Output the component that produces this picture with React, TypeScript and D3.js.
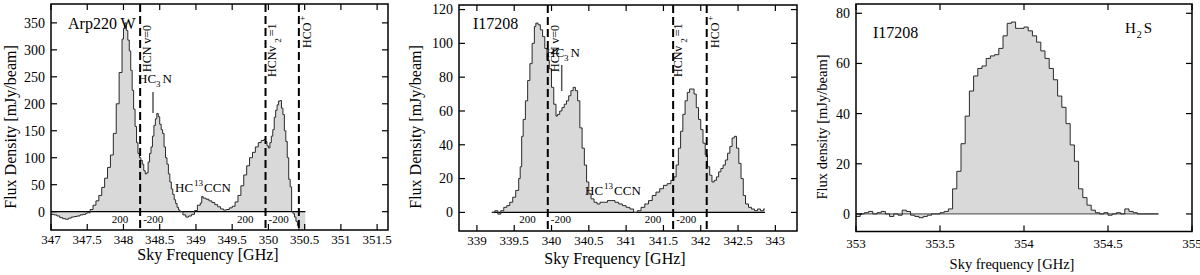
import React from 'react';
import * as d3 from 'd3';

type Pt = [number, number];

// Arp220 W spectrum, [sky frequency GHz, flux mJy/beam]
const arp220W: Pt[] = [
  [347.0, -5], [347.04, -6], [347.08, -8], [347.12, -11], [347.16, -13], [347.2, -14],
  [347.24, -12], [347.28, -10], [347.32, -9], [347.36, -8], [347.4, -6], [347.44, -5],
  [347.48, -3], [347.5, -2], [347.54, 4], [347.58, 12], [347.62, 20], [347.66, 30],
  [347.7, 45], [347.74, 62], [347.78, 82], [347.82, 105], [347.86, 145], [347.9, 200],
  [347.94, 258], [347.98, 320], [348.0, 340], [348.02, 350], [348.04, 336], [348.06, 318],
  [348.08, 298], [348.1, 262], [348.12, 225], [348.14, 190], [348.16, 158], [348.18, 128],
  [348.2, 108], [348.22, 100], [348.24, 95], [348.26, 88], [348.28, 76], [348.3, 70],
  [348.32, 72], [348.34, 92], [348.36, 108], [348.38, 120], [348.4, 140], [348.42, 160],
  [348.44, 172], [348.46, 182], [348.48, 176], [348.5, 162], [348.52, 152], [348.54, 145],
  [348.56, 120], [348.58, 100], [348.6, 88], [348.62, 70], [348.64, 55], [348.66, 42],
  [348.68, 32], [348.7, 22], [348.72, 15], [348.74, 8], [348.76, 3], [348.78, 0],
  [348.82, -6], [348.86, -10], [348.9, -8], [348.94, -5], [348.98, 2], [349.02, 12],
  [349.06, 16], [349.08, 28], [349.1, 25], [349.14, 23], [349.18, 20], [349.22, 17],
  [349.26, 13], [349.3, 9], [349.34, 5], [349.38, 3], [349.42, 4], [349.46, 7],
  [349.5, 10], [349.54, 18], [349.58, 30], [349.62, 48], [349.66, 68], [349.7, 85],
  [349.74, 100], [349.78, 110], [349.82, 120], [349.86, 128], [349.9, 132], [349.94, 134],
  [349.96, 130], [349.98, 122], [350.0, 118], [350.02, 128], [350.04, 140], [350.06, 152],
  [350.08, 175], [350.1, 188], [350.12, 198], [350.14, 205], [350.16, 206], [350.18, 192],
  [350.2, 180], [350.22, 150], [350.24, 130], [350.26, 100], [350.28, 60], [350.3, 46],
  [350.32, 0], [350.34, -4], [350.36, -10], [350.38, -18], [350.4, -26], [350.42, -36],
  [350.44, -60], [350.48, -60], [350.51, -60],
];

// I17208 HCN / HCO+ spectrum
const i17208Hcn: Pt[] = [
  [339.2, 0], [339.24, 1], [339.28, -1], [339.32, 1], [339.36, 3], [339.4, 4],
  [339.44, 6], [339.48, 9], [339.52, 13], [339.56, 20], [339.58, 27], [339.6, 45],
  [339.62, 55], [339.65, 66], [339.68, 78], [339.71, 88], [339.74, 100], [339.77, 110],
  [339.79, 112], [339.82, 111], [339.85, 108], [339.88, 104], [339.91, 97], [339.94, 90],
  [339.97, 85], [340.0, 74], [340.03, 64], [340.06, 57], [340.08, 58], [340.11, 60],
  [340.14, 62], [340.17, 64], [340.2, 66], [340.23, 69], [340.26, 72], [340.29, 74],
  [340.32, 72], [340.35, 66], [340.38, 50], [340.41, 38], [340.44, 28], [340.47, 18],
  [340.5, 11], [340.53, 8], [340.57, 6], [340.61, 5], [340.65, 6], [340.7, 6],
  [340.75, 7], [340.8, 7], [340.85, 6], [340.9, 5], [340.95, 4], [341.0, 3],
  [341.05, 2], [341.1, 0], [341.15, 1], [341.2, 3], [341.25, 5], [341.3, 7],
  [341.35, 10], [341.4, 12], [341.45, 14], [341.5, 16], [341.55, 17], [341.6, 19],
  [341.64, 21], [341.67, 28], [341.7, 38], [341.73, 48], [341.76, 58], [341.79, 66],
  [341.82, 71], [341.85, 73], [341.88, 73], [341.91, 70], [341.94, 62], [341.97, 55],
  [342.0, 49], [342.03, 41], [342.06, 34], [342.09, 27], [342.12, 22], [342.15, 18],
  [342.18, 19], [342.21, 21], [342.24, 24], [342.27, 26], [342.3, 28], [342.33, 31],
  [342.36, 35], [342.39, 39], [342.42, 44], [342.45, 45], [342.48, 38], [342.51, 29],
  [342.54, 20], [342.57, 10], [342.6, 5], [342.64, 3], [342.68, 2], [342.72, 1],
  [342.76, 2], [342.8, 1], [342.84, 2], [342.86, 2],
];

// I17208 H2S spectrum (channel start, flux)
const i17208H2S: Pt[] = [
  [353.0, -1], [353.025, 0], [353.05, 0.5], [353.075, 1], [353.1, 0], [353.125, 0.5],
  [353.15, 1], [353.175, 0], [353.2, -1], [353.225, 0], [353.25, -0.5], [353.275, 1.5],
  [353.3, 1], [353.325, -0.5], [353.35, -1], [353.375, -1.5], [353.4, -1], [353.425, -0.5],
  [353.45, 0], [353.475, 0], [353.5, 0.5], [353.525, 1], [353.55, 2], [353.575, 10],
  [353.6, 17], [353.625, 28], [353.65, 39], [353.675, 49], [353.7, 55], [353.725, 58],
  [353.75, 59], [353.775, 62], [353.8, 63], [353.825, 63.5], [353.85, 66], [353.875, 71],
  [353.9, 76], [353.925, 76.5], [353.95, 74], [353.975, 74], [354.0, 74.5], [354.025, 73],
  [354.05, 71], [354.075, 68.5], [354.1, 65], [354.125, 62], [354.15, 58], [354.175, 53.5],
  [354.2, 47], [354.225, 42.5], [354.25, 36], [354.275, 27.5], [354.3, 21], [354.325, 10],
  [354.35, 6.5], [354.375, 3.5], [354.4, 1.5], [354.425, 0.5], [354.45, 0], [354.475, 0.5],
  [354.5, -0.5], [354.525, 0], [354.55, 0.5], [354.575, 0], [354.6, 2], [354.625, 1],
  [354.65, 0.5], [354.675, 0], [354.7, 0], [354.725, 0], [354.75, 0], [354.775, 0], [354.8, 0],
];

const arpLineFreqs = [348.23, 349.96, 350.42];
const i17LineFreqs = [339.95, 341.63, 342.08];

const arpXTicks = [347, 347.5, 348, 348.5, 349, 349.5, 350, 350.5, 351, 351.5];
const arpYTicks = [0, 50, 100, 150, 200, 250, 300, 350];
const i17XTicks = [339, 339.5, 340, 340.5, 341, 341.5, 342, 342.5, 343];
const i17YTicks = [0, 20, 40, 60, 80, 100, 120];
const h2sXTicks = [353, 353.5, 354, 354.5, 355];
const h2sYTicks = [0, 20, 40, 60, 80];

const FONT = '"Liberation Serif", "Times New Roman", serif';

type Scale = d3.ScaleLinear<number, number>;

interface PanelProps {
  id: string;
  left: number; right: number; top: number; bottom: number;
  xDomain: [number, number]; yDomain: [number, number];
  xTicks: number[]; yTicks: number[];
  data: Pt[];
  zeroColor: string;
  xTitle: string; yTitle: string;
  xTitleX: number; xTitleY: number; yTitleX: number;
  titleSize: number; xTickY: number; yTickSize: number;
  extra: (x: Scale, y: Scale) => React.ReactNode;
}

function Panel(p: PanelProps) {
  const x = d3.scaleLinear().domain(p.xDomain).range([p.left, p.right]);
  const y = d3.scaleLinear().domain(p.yDomain).range([p.bottom, p.top]);
  const area = d3.area<Pt>().x(d => x(d[0])).y0(y(0)).y1(d => y(d[1])).curve(d3.curveStepAfter);
  const line = d3.line<Pt>().x(d => x(d[0])).y(d => y(d[1])).curve(d3.curveStepAfter);
  const first = p.data[0][0];
  const last = p.data[p.data.length - 1][0];
  const tl = 6;
  return (
    <g fontFamily={FONT} fill="#000">
      <defs>
        <clipPath id={p.id}>
          <rect x={p.left} y={p.top} width={p.right - p.left} height={p.bottom - p.top} />
        </clipPath>
      </defs>
      <g clipPath={`url(#${p.id})`}>
        <path d={area(p.data) || ''} fill="#d9d9d9" stroke="none" />
        <line x1={x(first)} x2={x(last)} y1={y(0)} y2={y(0)} stroke={p.zeroColor} strokeWidth={1.2} />
        <path d={line(p.data) || ''} fill="none" stroke="#2a2a2a" strokeWidth={1} />
      </g>
      {p.xTicks.map(t => (
        <g key={'x' + t}>
          <line x1={x(t)} x2={x(t)} y1={p.bottom} y2={p.bottom - tl} stroke="#000" strokeWidth={1.2} />
          <line x1={x(t)} x2={x(t)} y1={p.top} y2={p.top + tl} stroke="#000" strokeWidth={1.2} />
          <text x={x(t)} y={p.xTickY} fontSize={13} textAnchor="middle">{String(t)}</text>
        </g>
      ))}
      {p.yTicks.map(t => (
        <g key={'y' + t}>
          <line x1={p.left} x2={p.left + tl} y1={y(t)} y2={y(t)} stroke="#000" strokeWidth={1.2} />
          <line x1={p.right} x2={p.right - tl} y1={y(t)} y2={y(t)} stroke="#000" strokeWidth={1.2} />
          <text x={p.left - 6} y={y(t)} dy="0.35em" fontSize={p.yTickSize} textAnchor="end">{String(t)}</text>
        </g>
      ))}
      {p.extra(x, y)}
      <rect x={p.left} y={p.top} width={p.right - p.left} height={p.bottom - p.top}
        fill="none" stroke="#000" strokeWidth={1.5} />
      <text x={p.xTitleX} y={p.xTitleY} fontSize={p.titleSize} textAnchor="middle">{p.xTitle}</text>
      <text transform={`translate(${p.yTitleX},127) rotate(-90)`} fontSize={p.titleSize}
        textAnchor="middle" dy="0.35em">{p.yTitle}</text>
    </g>
  );
}

function Markers(x: Scale, y: Scale, freqs: number[], top: number, bottom: number) {
  return (
    <g>
      {freqs.map(f => (
        <line key={f} x1={x(f)} x2={x(f)} y1={top} y2={bottom} stroke="#000" strokeWidth={2} strokeDasharray="8,4" />
      ))}
      {freqs.slice(0, 2).map(f => (
        <g key={'v' + f} fontSize={11}>
          <text x={x(f) - 12} y={223} textAnchor="end">200</text>
          <text x={x(f) + 3} y={223}>-200</text>
        </g>
      ))}
    </g>
  );
}

function LineLabels(lx: number[], ly: number[]) {
  // rotated species labels: HCN v=0, HCNv2=1, HCO+
  return (
    <g fontSize={12}>
      <text transform={`translate(${lx[0]},${ly[0]}) rotate(-90)`}>HCN v=0</text>
      <text transform={`translate(${lx[1]},${ly[1]}) rotate(-90)`}>
        HCNv<tspan dx={3} dy={5} fontSize={9}>2</tspan><tspan dx={2} dy={-5}>=1</tspan>
      </text>
      <text transform={`translate(${lx[2]},${ly[2]}) rotate(-90)`}>
        HCO<tspan dx={2} dy={-6} fontSize={9}>+</tspan>
      </text>
    </g>
  );
}

export default function App() {
  return (
    <svg width={1200} height={275} style={{ position: 'absolute', left: 0, top: 0, background: '#fff' }}>
      <Panel
        id="c1" left={51} right={388} top={4} bottom={230}
        xDomain={[347, 351.65]} yDomain={[-34, 385]}
        xTicks={arpXTicks} yTicks={arpYTicks} data={arp220W} zeroColor="#000"
        xTitle="Sky Frequency [GHz]" yTitle="Flux Density [mJy/beam]"
        xTitleX={208} xTitleY={260} yTitleX={10} titleSize={16} xTickY={244} yTickSize={14}
        extra={(x, y) => (
          <g>
            {Markers(x, y, arpLineFreqs, 4, 230)}
            <text x={68} y={29} fontSize={16}>Arp220 W</text>
            {LineLabels([151, 276, 311], [72, 77, 48])}
            <text x={138} y={83} fontSize={13}>HC<tspan dy={4} fontSize={9}>3</tspan><tspan dx={2} dy={-4}>N</tspan></text>
            <line x1={153} x2={153} y1={92} y2={113} stroke="#555" strokeWidth={1.5} />
            <text x={175} y={191.7} fontSize={13}>HC<tspan dx={1} dy={-6} fontSize={9}>13</tspan><tspan dx={1} dy={6}>CCN</tspan></text>
          </g>
        )}
      />
      <Panel
        id="c2" left={459} right={797} top={5} bottom={231}
        xDomain={[338.76, 343.29]} yDomain={[-11, 122.7]}
        xTicks={i17XTicks} yTicks={i17YTicks} data={i17208Hcn} zeroColor="#000"
        xTitle="Sky Frequency [GHz]" yTitle="Flux Density [mJy/beam]"
        xTitleX={615} xTitleY={264} yTitleX={415} titleSize={16} xTickY={245} yTickSize={14}
        extra={(x, y) => (
          <g>
            {Markers(x, y, i17LineFreqs, 5, 231)}
            <text x={473} y={29} fontSize={16}>I17208</text>
            {LineLabels([559, 682, 719], [72, 77, 48])}
            <text x={546} y={57} fontSize={13}>HC<tspan dy={4} fontSize={9}>3</tspan><tspan dx={2} dy={-4}>N</tspan></text>
            <line x1={561.7} x2={561.7} y1={65} y2={91} stroke="#555" strokeWidth={1.5} />
            <text x={585} y={195} fontSize={13}>HC<tspan dx={1} dy={-6} fontSize={9}>13</tspan><tspan dx={1} dy={6}>CCN</tspan></text>
          </g>
        )}
      />
      <Panel
        id="c3" left={856} right={1192} top={4} bottom={231.5}
        xDomain={[353, 355]} yDomain={[-7, 83.7]}
        xTicks={h2sXTicks} yTicks={h2sYTicks} data={i17208H2S} zeroColor="#666"
        xTitle="Sky frequency [GHz]" yTitle="Flux density [mJy/beam]"
        xTitleX={1012} xTitleY={269} yTitleX={822} titleSize={14.5} xTickY={248} yTickSize={14}
        extra={() => (
          <g>
            <text x={873} y={38} fontSize={16}>I17208</text>
            <text x={1125} y={33} fontSize={15}>H<tspan dx={1} dy={5} fontSize={10}>2</tspan><tspan dx={2} dy={-5}>S</tspan></text>
          </g>
        )}
      />
    </svg>
  );
}
